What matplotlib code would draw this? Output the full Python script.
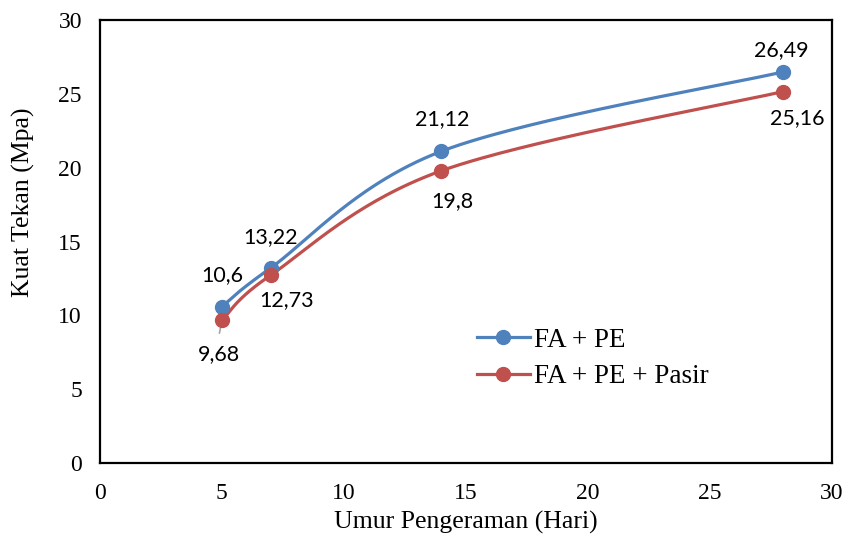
import numpy as np
import matplotlib
matplotlib.use("Agg")
import matplotlib.pyplot as plt

# Curing age (days) and compressive strength (MPa)
umur = [5, 7, 14, 28]
fa_pe = [10.6, 13.22, 21.12, 26.49]
fa_pe_pasir = [9.68, 12.73, 19.8, 25.16]
label_fa_pe = ["10,6", "13,22", "21,12", "26,49"]
label_fa_pe_pasir = ["9,68", "12,73", "19,8", "25,16"]
series_names = ["FA + PE", "FA + PE + Pasir"]

BLUE = "#4F81BD"
RED = "#C0504D"
SERIF = "Liberation Serif"
LABEL_FONT = "Lato"

fig = plt.figure(figsize=(8.47, 5.43), dpi=100)
ax = fig.add_axes([0.118, 0.147, 0.864, 0.816])
ax.set_xlim(0, 30)
ax.set_ylim(0, 30)


def smooth(xs, ys, sx, sy, n=60):
    """Bezier smoothing through the points (Catmull-Rom control points),
    computed in a display-proportional space."""
    P = np.column_stack([np.asarray(xs, float) * sx, np.asarray(ys, float) * sy])
    P = np.vstack([P[0], P, P[-1]])
    out = []
    t = np.linspace(0, 1, n)[:, None]
    for i in range(1, len(P) - 2):
        p0, p1, p2, p3 = P[i - 1], P[i], P[i + 1], P[i + 2]
        c1 = p1 + (p2 - p0) / 6.0
        c2 = p2 - (p3 - p1) / 6.0
        seg = ((1 - t) ** 3) * p1 + 3 * ((1 - t) ** 2) * t * c1 + 3 * (1 - t) * t ** 2 * c2 + t ** 3 * p2
        out.append(seg if i == 1 else seg[1:])
    C = np.vstack(out)
    return C[:, 0] / sx, C[:, 1] / sy


# pixel-per-unit scale of the plotting area
sx = 732 / 30.0
sy = 443 / 30.0

for ys, color, name in [(fa_pe, BLUE, series_names[0]), (fa_pe_pasir, RED, series_names[1])]:
    cx, cy = smooth(umur, ys, sx, sy)
    ax.plot(cx, cy, color=color, lw=2.3, solid_capstyle="round", zorder=3)
    ax.plot(umur, ys, linestyle="none", marker="o", ms=10, color=color, zorder=4)
    ax.plot([], [], color=color, lw=2.3, marker="o", ms=10, label=name)

# data labels (offsets in pixels)
off_blue = [(0, 32), (0, 31), (1, 32), (-2, 22)]
off_red = [(-3, -34), (16, -25), (11, -30), (14, -27)]
for x, y, s, o in zip(umur, fa_pe, label_fa_pe, off_blue):
    ax.annotate(s, (x, y), xytext=o, textcoords="offset pixels", ha="center", va="center",
                fontsize=15.5, family=LABEL_FONT, zorder=5)
for x, y, s, o in zip(umur, fa_pe_pasir, label_fa_pe_pasir, off_red):
    ax.annotate(s, (x, y), xytext=o, textcoords="offset pixels", ha="center", va="center",
                fontsize=15.5, family=LABEL_FONT, zorder=5)

# leader line for the first lower label
ax.annotate("", xy=(umur[0], fa_pe_pasir[0]), xytext=(-2.5, -13), textcoords="offset pixels",
            arrowprops=dict(arrowstyle="-", color="#A6A6A6", lw=1.2, shrinkA=0, shrinkB=3.6),
            zorder=2)

ax.set_xticks(np.arange(0, 31, 5))
ax.set_yticks(np.arange(0, 31, 5))
ax.tick_params(length=0, labelsize=17)
ax.tick_params(axis="y", pad=13)
ax.tick_params(axis="x", pad=14)
for lab in ax.get_xticklabels() + ax.get_yticklabels():
    lab.set_family(SERIF)

for sp in ax.spines.values():
    sp.set_linewidth(1.6)
    sp.set_color("black")

ax.set_xlabel("Umur Pengeraman (Hari)", family=SERIF, fontsize=18.5, labelpad=5)
ax.set_ylabel("Kuat Tekan (Mpa)", family=SERIF, fontsize=18.5)
ax.yaxis.set_label_coords(-0.089, 0.589)

leg = ax.legend(loc="center left", bbox_to_anchor=(0.515, 0.236), frameon=False,
                prop={"family": SERIF, "size": 19.5}, handlelength=1.96,
                handletextpad=0.15, labelspacing=0.42, borderpad=0, borderaxespad=0)

fig.savefig("out.png", dpi=100)
